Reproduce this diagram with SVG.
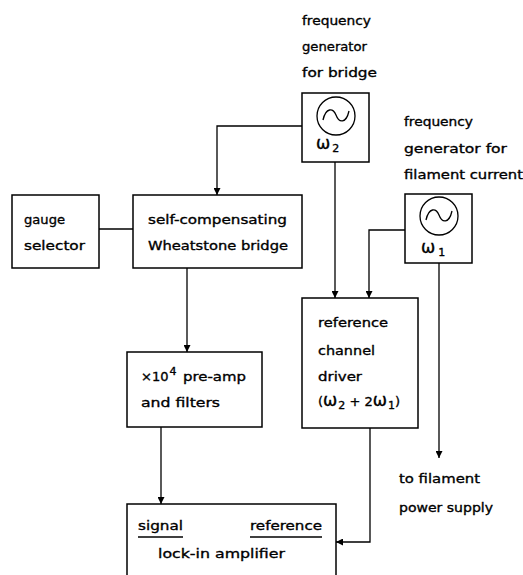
<svg xmlns="http://www.w3.org/2000/svg" width="523" height="575" viewBox="0 0 523 575">
<style>
.box{fill:none;stroke:#000;stroke-width:1.5}
.ln{fill:none;stroke:#000;stroke-width:1.3}
text{font-family:"DejaVu Sans",sans-serif;font-size:13px;fill:#000;stroke:#000;stroke-width:0.35}
.sub{font-size:11px}
.om{font-size:17px}
</style>
<defs>
<marker id="ar" viewBox="0 0 8 8" refX="8" refY="4" markerWidth="7" markerHeight="7" markerUnits="userSpaceOnUse" orient="auto">
<path d="M0,0 L8,4 L0,8 z" fill="#000"/>
</marker>
</defs>
<rect width="523" height="575" fill="#fff"/>

<g id="gen2">
<text x="302" y="25" textLength="69" lengthAdjust="spacingAndGlyphs">frequency</text>
<text x="302" y="51" textLength="65" lengthAdjust="spacingAndGlyphs">generator</text>
<text x="302" y="77" textLength="75" lengthAdjust="spacingAndGlyphs">for bridge</text>
<rect class="box" x="302" y="93" width="67" height="69"/>
<circle class="ln" cx="336" cy="116" r="19"/>
<path class="ln" stroke-width="1.6" d="M323,120 C326,107 333,108 336,115 C339,123 346,124 349,111"/>
<text x="316" y="149"><tspan class="om">ω</tspan><tspan class="sub" dx="2" dy="3">2</tspan></text>
</g>

<g id="gen1">
<text x="404" y="126" textLength="69" lengthAdjust="spacingAndGlyphs">frequency</text>
<text x="404" y="153" textLength="103" lengthAdjust="spacingAndGlyphs">generator for</text>
<text x="404" y="179" textLength="119" lengthAdjust="spacingAndGlyphs">filament current</text>
<rect class="box" x="405" y="194" width="67" height="69"/>
<circle class="ln" cx="439" cy="216" r="19"/>
<path class="ln" stroke-width="1.6" d="M426,220 C429,207 436,208 439,215 C442,223 449,224 452,211"/>
<text x="421" y="253"><tspan class="om">ω</tspan><tspan class="sub" dx="3" dy="3">1</tspan></text>
</g>

<g id="gauge">
<rect class="box" x="12" y="195" width="87" height="73"/>
<text x="24" y="224" textLength="41" lengthAdjust="spacingAndGlyphs">gauge</text>
<text x="24" y="250" textLength="61" lengthAdjust="spacingAndGlyphs">selector</text>
</g>

<g id="bridge">
<rect class="box" x="133" y="195" width="169" height="73"/>
<text x="148" y="224" textLength="139" lengthAdjust="spacingAndGlyphs">self-compensating</text>
<text x="148" y="250" textLength="140" lengthAdjust="spacingAndGlyphs">Wheatstone bridge</text>
</g>

<g id="preamp">
<rect class="box" x="127" y="352" width="135" height="75"/>
<text x="141" y="381">×10<tspan class="sub" dx="1" dy="-6">4</tspan></text>
<text x="183" y="381" textLength="63" lengthAdjust="spacingAndGlyphs">pre-amp</text>
<text x="141" y="407" textLength="79" lengthAdjust="spacingAndGlyphs">and filters</text>
</g>

<g id="driver">
<rect class="box" x="302" y="298" width="116" height="130"/>
<text x="318" y="327" textLength="70" lengthAdjust="spacingAndGlyphs">reference</text>
<text x="318" y="355" textLength="57" lengthAdjust="spacingAndGlyphs">channel</text>
<text x="318" y="381" textLength="44" lengthAdjust="spacingAndGlyphs">driver</text>
<text x="318" y="406">(<tspan class="om">ω</tspan><tspan class="sub" dx="1" dy="3">2</tspan><tspan dy="-3"> + 2</tspan><tspan class="om">ω</tspan><tspan class="sub" dx="1" dy="3">1</tspan><tspan dy="-3">)</tspan></text>
</g>

<g id="lockin">
<rect class="box" x="127" y="504" width="209" height="80"/>
<text x="138" y="530" textLength="45" lengthAdjust="spacingAndGlyphs">signal</text>
<line class="ln" x1="138" y1="537" x2="183" y2="537"/>
<text x="250" y="530" textLength="72" lengthAdjust="spacingAndGlyphs">reference</text>
<line class="ln" x1="250" y1="537" x2="322" y2="537"/>
<text x="158" y="558" textLength="127" lengthAdjust="spacingAndGlyphs">lock-in amplifier</text>
</g>

<g id="filament">
<text x="399" y="483" textLength="81" lengthAdjust="spacingAndGlyphs">to filament</text>
<text x="399" y="512" textLength="94" lengthAdjust="spacingAndGlyphs">power supply</text>
</g>

<g id="connectors">
<polyline class="ln" points="302,126 217,126 217,195" marker-end="url(#ar)"/>
<line class="ln" x1="335" y1="162" x2="335" y2="298" marker-end="url(#ar)"/>
<polyline class="ln" points="405,230 369,230 369,298" marker-end="url(#ar)"/>
<line class="ln" x1="439" y1="263" x2="439" y2="458" marker-end="url(#ar)"/>
<line class="ln" x1="99" y1="229" x2="133" y2="229"/>
<line class="ln" x1="187" y1="268" x2="187" y2="352" marker-end="url(#ar)"/>
<line class="ln" x1="161" y1="427" x2="161" y2="504" marker-end="url(#ar)"/>
<polyline class="ln" points="370,428 370,542 336,542" marker-end="url(#ar)"/>
</g>
</svg>
